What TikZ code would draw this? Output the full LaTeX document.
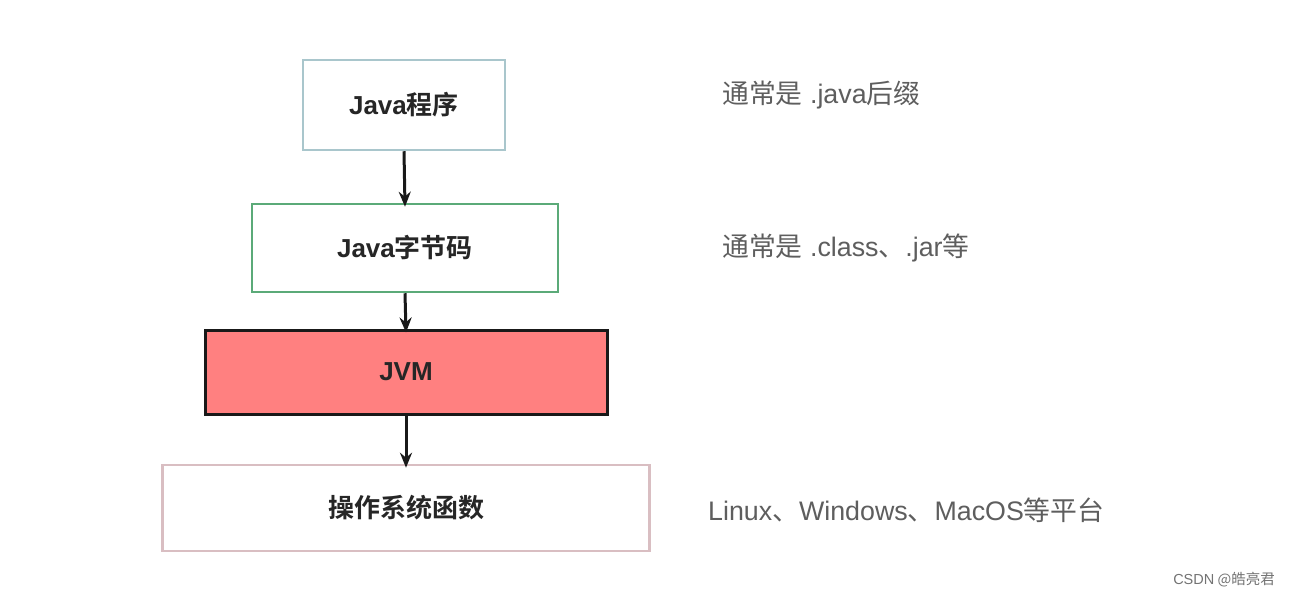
\documentclass[tikz,border=0pt]{standalone}
\usepackage{fontspec}
\newfontfamily\cjk{Noto Sans CJK SC}
\newfontfamily\cjkb{Noto Sans CJK SC Bold}
\newfontfamily\lat{Liberation Sans}
\usetikzlibrary{arrows.meta}
\definecolor{boxblue}{HTML}{A9C6CC}
\definecolor{boxgreen}{HTML}{5BAA78}
\definecolor{jvmred}{HTML}{FF8080}
\definecolor{boxpink}{HTML}{D9BEC2}
\definecolor{notegray}{HTML}{5E5E5E}
\tikzset{
  flowbox/.style={draw, line width=2.5pt, minimum height=88pt, inner sep=0pt,
    font=\cjkb\fontsize{26}{30}\selectfont, text=black!85},
  note/.style={anchor=west, inner sep=0pt, text=notegray, font=\cjk\fontsize{26.8}{30}\selectfont},
  flowarrow/.style={-{Stealth[length=15pt,width=12pt]}, line width=3pt, draw=black!90}
}
\begin{document}
\begin{tikzpicture}[x=1pt,y=-1pt]
\useasboundingbox[fill=white] (0,0) rectangle (1290,596);
\node[flowbox, draw=boxblue, minimum width=202pt, minimum height=90pt] (prog) at (404,105) {{\lat\bfseries Java}程序};
\node[flowbox, draw=boxgreen, minimum width=306pt] (byte) at (405,248) {{\lat\bfseries Java}字节码};
\node[flowbox, draw=black!90, fill=jvmred, line width=3pt, minimum width=402pt, minimum height=84pt] (jvm) at (406,372) {{\lat\bfseries JVM}};
\node[flowbox, draw=boxpink, minimum width=487pt, minimum height=86pt] (os) at (406,508) {操作系统函数};
\draw[flowarrow] (prog.south) -- ([yshift=-4pt]byte.north);
\draw[flowarrow] (byte.south) -- ([yshift=-4pt]jvm.north);
\draw[flowarrow] (jvm.south) -- ([yshift=-4pt]os.north);
\node[note] (n1) at (722,95) {通常是{\lat{} .java}后缀};
\node[note] (n2) at (722,248) {通常是{\lat{} .class}、{\lat .jar}等};
\node[note] (n3) at (708,510) {{\lat Linux}、{\lat Windows}、{\lat MacOS}等平台};
\node[anchor=east, inner sep=0pt, text=black!55, font=\cjk\fontsize{14.5}{17}\selectfont] (wm) at (1275,580) {{\lat CSDN} @皓亮君};
\end{tikzpicture}
\end{document}
